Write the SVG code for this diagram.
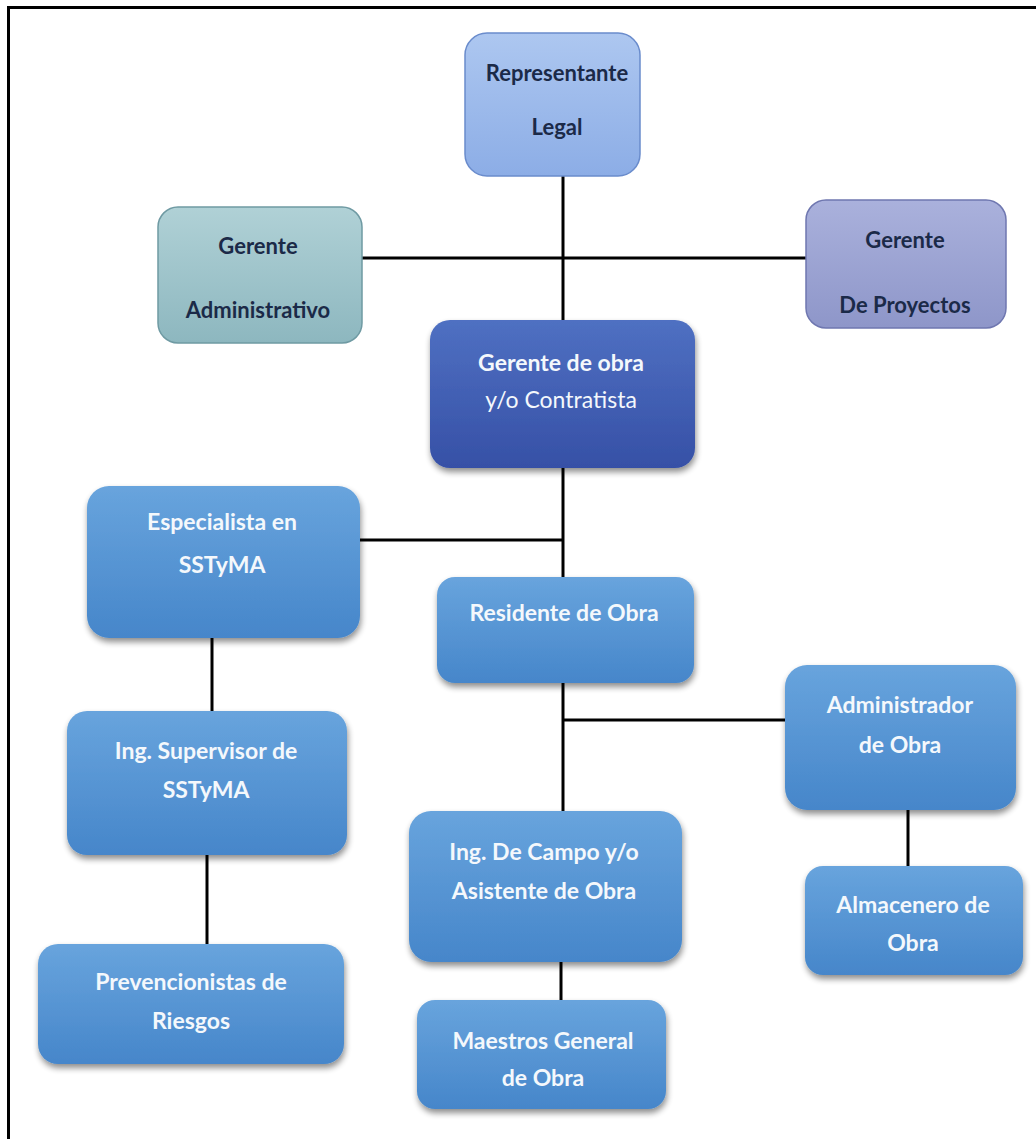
<svg xmlns="http://www.w3.org/2000/svg" width="1036" height="1139" viewBox="0 0 1036 1139">
<defs>
<linearGradient id="gBlue" x1="0" y1="0" x2="0" y2="1"><stop offset="0" stop-color="#68a4dd"/><stop offset="1" stop-color="#4686ca"/></linearGradient>
<linearGradient id="gTop" x1="0" y1="0" x2="0" y2="1"><stop offset="0" stop-color="#adc7f0"/><stop offset="1" stop-color="#8cade6"/></linearGradient>
<linearGradient id="gAdm" x1="0" y1="0" x2="0" y2="1"><stop offset="0" stop-color="#b0d1d6"/><stop offset="1" stop-color="#8db7bf"/></linearGradient>
<linearGradient id="gProy" x1="0" y1="0" x2="0" y2="1"><stop offset="0" stop-color="#aab1dc"/><stop offset="1" stop-color="#8e96c9"/></linearGradient>
<linearGradient id="gObra" x1="0" y1="0" x2="0" y2="1"><stop offset="0" stop-color="#4f70c2"/><stop offset="1" stop-color="#3650a6"/></linearGradient>
<filter id="sh" x="-10%" y="-10%" width="125%" height="130%"><feGaussianBlur in="SourceAlpha" stdDeviation="3"/><feOffset dx="1" dy="4"/><feComponentTransfer><feFuncA type="linear" slope="0.45"/></feComponentTransfer><feMerge><feMergeNode/><feMergeNode in="SourceGraphic"/></feMerge></filter>
</defs>
<style>
.blue{fill:url(#gBlue);filter:url(#sh)}
.lt{font-family:Lato,"Open Sans","Liberation Sans",sans-serif;font-weight:bold;font-size:22px;text-anchor:middle;fill:#1b2a48}
.wt{font-family:Lato,"Open Sans","Liberation Sans",sans-serif;font-weight:bold;font-size:23px;text-anchor:middle;fill:#f4f8fc}
.nb{font-weight:normal}
.ln{stroke:#000;stroke-width:3;fill:none}
</style>
<rect x="0" y="0" width="1036" height="1139" fill="#fff"/>
<path d="M8.5 1139 V7.5 H1036" fill="none" stroke="#000" stroke-width="3"/>
<g id="connectors">
<line class="ln" x1="563" y1="176" x2="563" y2="320"/>
<line class="ln" x1="362" y1="258" x2="806" y2="258"/>
<line class="ln" x1="563" y1="468" x2="563" y2="577"/>
<line class="ln" x1="360" y1="540" x2="563" y2="540"/>
<line class="ln" x1="563" y1="683" x2="563" y2="811"/>
<line class="ln" x1="563" y1="720" x2="785" y2="720"/>
<line class="ln" x1="212" y1="638" x2="212" y2="711"/>
<line class="ln" x1="207" y1="855" x2="207" y2="944"/>
<line class="ln" x1="561" y1="962" x2="561" y2="1000"/>
<line class="ln" x1="908" y1="810" x2="908" y2="866"/>
</g>
<g id="n-representante">
<rect x="465" y="33" width="175" height="143" rx="22" fill="url(#gTop)" stroke="#6a8ccc" stroke-width="1.5"/>
<text class="lt" x="557" y="81">Representante</text>
<text class="lt" x="557" y="135">Legal</text>
</g>
<g id="n-gerente-adm">
<rect x="158" y="207" width="204" height="136" rx="20" fill="url(#gAdm)" stroke="#6f9aa3" stroke-width="1.5"/>
<text class="lt" x="258" y="254">Gerente</text>
<text class="lt" x="258" y="318">Administrativo</text>
</g>
<g id="n-gerente-proy">
<rect x="806" y="200" width="200" height="128" rx="20" fill="url(#gProy)" stroke="#6f77b0" stroke-width="1.5"/>
<text class="lt" x="905" y="248">Gerente</text>
<text class="lt" x="905" y="313">De Proyectos</text>
</g>
<g id="n-gerente-obra">
<rect x="430" y="320" width="265" height="148" rx="20" fill="url(#gObra)" filter="url(#sh)"/>
<text class="wt" x="561" y="371">Gerente de obra</text>
<text class="wt nb" x="561" y="408">y/o Contratista</text>
</g>
<g id="n-especialista">
<rect class="blue" x="87" y="486" width="273" height="152" rx="22"/>
<text class="wt" x="222" y="530">Especialista en</text>
<text class="wt" x="222" y="573">SSTyMA</text>
</g>
<g id="n-residente">
<rect class="blue" x="437" y="577" width="257" height="106" rx="18"/>
<text class="wt" x="564" y="621">Residente de Obra</text>
</g>
<g id="n-administrador">
<rect class="blue" x="785" y="665" width="231" height="145" rx="22"/>
<text class="wt" x="900" y="713">Administrador</text>
<text class="wt" x="900" y="753">de Obra</text>
</g>
<g id="n-ing-supervisor">
<rect class="blue" x="67" y="711" width="280" height="144" rx="20"/>
<text class="wt" x="206" y="759">Ing. Supervisor de</text>
<text class="wt" x="206" y="798">SSTyMA</text>
</g>
<g id="n-ing-campo">
<rect class="blue" x="409" y="811" width="273" height="151" rx="22"/>
<text class="wt" x="544" y="860">Ing. De Campo y/o</text>
<text class="wt" x="544" y="899">Asistente de Obra</text>
</g>
<g id="n-almacenero">
<rect class="blue" x="805" y="866" width="218" height="109" rx="18"/>
<text class="wt" x="913" y="913">Almacenero de</text>
<text class="wt" x="913" y="951">Obra</text>
</g>
<g id="n-prevencionistas">
<rect class="blue" x="38" y="944" width="306" height="120" rx="20"/>
<text class="wt" x="191" y="990">Prevencionistas de</text>
<text class="wt" x="191" y="1029">Riesgos</text>
</g>
<g id="n-maestros">
<rect class="blue" x="417" y="1000" width="249" height="109" rx="18"/>
<text class="wt" x="543" y="1049">Maestros General</text>
<text class="wt" x="543" y="1086">de Obra</text>
</g>
</svg>
